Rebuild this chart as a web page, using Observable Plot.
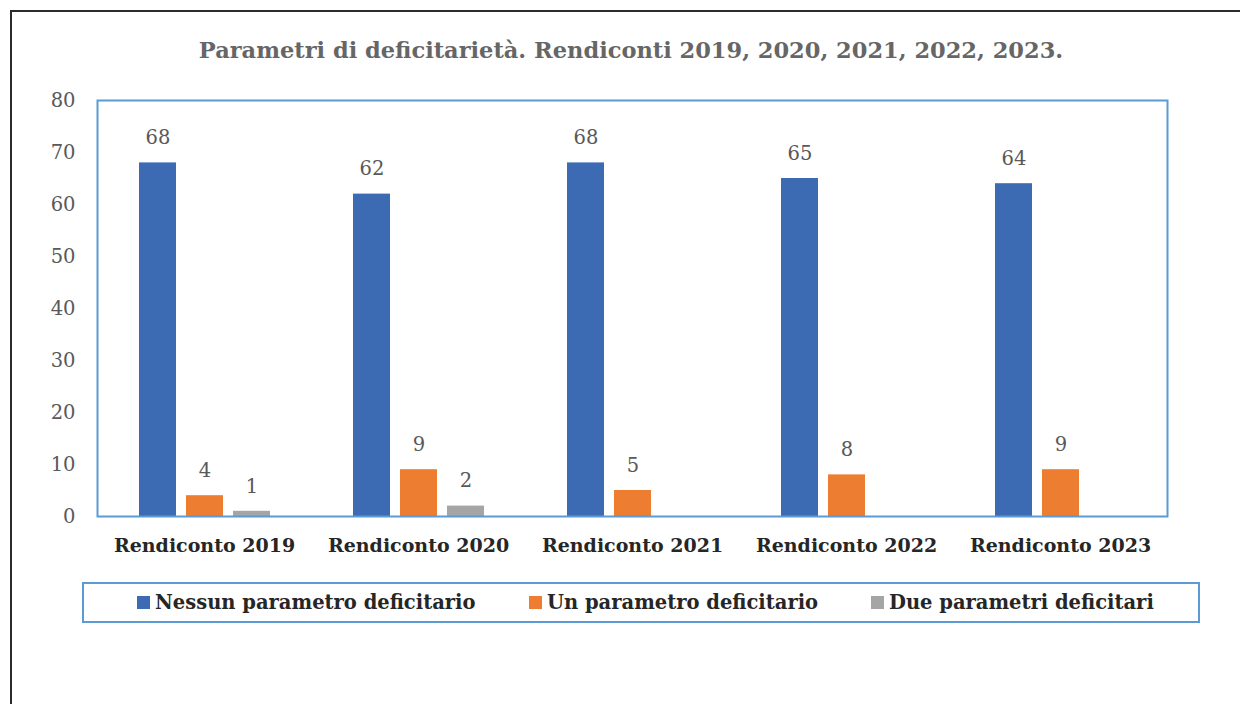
<!DOCTYPE html>
<html>
<head>
<meta charset="utf-8">
<script src="https://cdn.jsdelivr.net/npm/d3@7"></script>
<script src="https://cdn.jsdelivr.net/npm/@observablehq/plot@0.6"></script>
<style>
  html, body { margin: 0; padding: 0; background: #fff; }
  body { width: 1240px; height: 704px; position: relative; overflow: hidden; font-family: "DejaVu Serif", serif; }
  #outer { position: absolute; left: 10px; top: 10px; width: 1300px; height: 800px; border-left: 2px solid #2b2b2b; border-top: 2px solid #2b2b2b; }
  #title { position: absolute; left: 0; top: 34px; width: 1262px; text-align: center; font-weight: bold; font-size: 22.5px; line-height: 32px; color: #666; }
  #chart { position: absolute; left: 0; top: 80px; }
  #legend { position: absolute; left: 82px; top: 582px; width: 1118px; height: 41px; box-sizing: border-box; border: 2px solid #5B9BD5; font-weight: bold; font-size: 19.5px; color: #262626; }
  .item { position: absolute; top: 0; height: 37px; display: flex; align-items: center; gap: 5px; white-space: nowrap; }
  .sw { width: 13px; height: 13px; display: inline-block; }
</style>
</head>
<body>
<div id="outer"></div>
<div id="title">Parametri di deficitarietà. Rendiconti 2019, 2020, 2021, 2022, 2023.</div>
<div id="chart"></div>
<div id="legend"></div>
<script>
const categories = ["Rendiconto 2019", "Rendiconto 2020", "Rendiconto 2021", "Rendiconto 2022", "Rendiconto 2023"];
const series = ["Nessun parametro deficitario", "Un parametro deficitario", "Due parametri deficitari"];
const nessun = [68, 62, 68, 65, 64];
const uno = [4, 9, 5, 8, 9];
const due = [1, 2, null, null, null];
const colors = ["#3C6BB4", "#ED7D31", "#A5A5A5"];
const yTicks = [0, 10, 20, 30, 40, 50, 60, 70, 80];
const legendOffsets = [53, 445, 787];

const seriesValues = [nessun, uno, due];
const rows = [];
categories.forEach((c, i) => {
  series.forEach((s, j) => {
    const v = seriesValues[j][i];
    if (v != null) rows.push({cat: c, series: s, value: v});
  });
});

const chart = Plot.plot({
  width: 1240,
  height: 486,
  marginLeft: 96,
  marginRight: 72,
  marginTop: 20,
  marginBottom: 50,
  style: {fontFamily: "'DejaVu Serif', serif", background: "transparent"},
  fx: {domain: categories, padding: 0, label: null},
  x: {domain: series, paddingInner: 0.221, paddingOuter: 0.867, axis: null},
  y: {domain: [0, 80], label: null},
  color: {domain: series, range: colors},
  marks: [
    Plot.barY(rows, {fx: "cat", x: "series", y: "value", fill: "series"}),
    Plot.text(rows, {fx: "cat", x: "series", y: "value", text: d => String(d.value), dy: -25, fontSize: 19.5, fill: "#595959"}),
    Plot.axisY({ticks: yTicks, tickSize: 0, tickPadding: 22, fontSize: 19.5, fill: "#595959", label: null}),
    Plot.axisFx({anchor: "bottom", tickSize: 0, tickPadding: 22, fontSize: 19, fontWeight: "bold", fill: "#262626", label: null}),
    Plot.frame({facet: "super", stroke: "#5B9BD5", strokeWidth: 2})
  ]
});
document.getElementById("chart").appendChild(chart);

const legend = document.getElementById("legend");
series.forEach((s, j) => {
  const it = document.createElement("div");
  it.className = "item";
  it.style.left = legendOffsets[j] + "px";
  const sw = document.createElement("span");
  sw.className = "sw";
  sw.style.background = colors[j];
  const t = document.createElement("span");
  t.textContent = s;
  it.appendChild(sw);
  it.appendChild(t);
  legend.appendChild(it);
});
</script>
</body>
</html>
